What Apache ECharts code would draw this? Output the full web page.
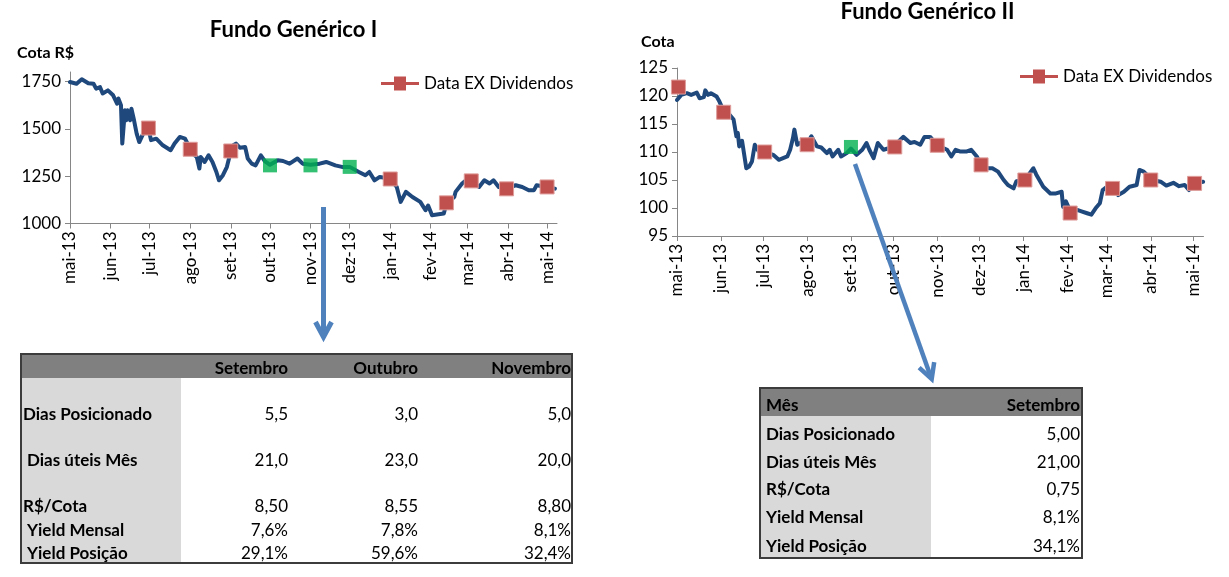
<!DOCTYPE html>
<html><head><meta charset="utf-8">
<script src="https://cdn.jsdelivr.net/npm/echarts@6/dist/echarts.min.js"></script>
<style>
html,body{margin:0;padding:0;background:#fff;}
#wrap{position:relative;width:1229px;height:577px;overflow:hidden;font-family:Lato,'Open Sans',sans-serif;}
#chart{position:absolute;left:0;top:0;width:1229px;height:577px;}
.box{position:absolute;box-sizing:border-box;border:2px solid #3c3c3c;}
.band{position:absolute;}
.txt{position:absolute;white-space:pre;font-size:17px;line-height:20px;color:#000;}
.b{font-weight:bold;}
</style></head><body><div id="wrap"><div id="chart"></div></div>
<script>
// ---------- DATA ----------
const monthTickDates = ['2013-05-01','2013-06-01','2013-07-01','2013-08-01','2013-09-01','2013-10-01','2013-11-01','2013-12-01','2014-01-01','2014-02-01','2014-03-01','2014-04-01','2014-05-01'];
const monthTickLabels = ['mai-13','jun-13','jul-13','ago-13','set-13','out-13','nov-13','dez-13','jan-14','fev-14','mar-14','abr-14','mai-14'];
const fundo1Ticks = [1000,1250,1500,1750];
const fundo2Ticks = [95,100,105,110,115,120,125];

const fundo1Cota = [
 ['2013-05-01',1747],['2013-05-06',1738],['2013-05-10',1762],['2013-05-15',1741],['2013-05-19',1738],['2013-05-21',1712],
 ['2013-05-24',1720],['2013-05-26',1687],['2013-05-30',1703],['2013-06-03',1677],['2013-06-06',1633],['2013-06-07',1660],
 ['2013-06-09',1624],['2013-06-10',1422],['2013-06-12',1598],['2013-06-13',1545],['2013-06-14',1598],['2013-06-16',1545],
 ['2013-06-17',1606],['2013-06-19',1545],['2013-06-21',1475],['2013-06-23',1430],['2013-06-26',1475],['2013-06-30',1500],
 ['2013-07-02',1440],['2013-07-06',1448],['2013-07-11',1413],['2013-07-17',1387],['2013-07-20',1422],['2013-07-24',1457],
 ['2013-07-28',1448],['2013-08-01',1395],['2013-08-03',1369],['2013-08-06',1351],['2013-08-08',1290],['2013-08-09',1351],
 ['2013-08-12',1325],['2013-08-15',1360],['2013-08-18',1325],['2013-08-21',1272],['2013-08-23',1228],['2013-08-26',1255],
 ['2013-08-29',1298],['2013-09-01',1380],['2013-09-03',1413],['2013-09-05',1422],['2013-09-08',1400],['2013-09-12',1404],
 ['2013-09-14',1343],['2013-09-17',1316],['2013-09-20',1307],['2013-09-24',1360],['2013-09-27',1330],['2013-10-01',1310],
 ['2013-10-07',1334],['2013-10-11',1330],['2013-10-16',1316],['2013-10-22',1343],['2013-10-26',1316],['2013-11-01',1310],
 ['2013-11-08',1316],['2013-11-13',1325],['2013-11-20',1307],['2013-11-25',1299],['2013-12-01',1299],['2013-12-08',1272],
 ['2013-12-13',1255],['2013-12-16',1272],['2013-12-20',1228],['2013-12-24',1246],['2014-01-01',1237],['2014-01-06',1193],
 ['2014-01-09',1114],['2014-01-13',1167],['2014-01-18',1140],['2014-01-24',1114],['2014-01-28',1070],['2014-01-30',1095],
 ['2014-02-02',1044],['2014-02-07',1049],['2014-02-11',1053],['2014-02-13',1105],['2014-02-19',1140],['2014-02-20',1167],
 ['2014-02-25',1211],['2014-02-28',1228],['2014-03-04',1222],['2014-03-10',1193],['2014-03-14',1228],['2014-03-18',1211],
 ['2014-03-21',1228],['2014-03-25',1193],['2014-03-31',1185],['2014-04-07',1202],['2014-04-12',1193],['2014-04-17',1176],
 ['2014-04-21',1176],['2014-04-23',1202],['2014-05-01',1193],['2014-05-07',1184]
];
const fundo1ExDiv = [['2013-06-30',1504],['2013-08-01',1392],['2013-09-01',1383],['2014-01-01',1235],['2014-02-13',1109],['2014-03-04',1225],['2014-03-31',1183],['2014-05-01',1193]];
const fundo1Posicao = [['2013-10-01',1307],['2013-11-01',1307],['2013-12-01',1299]];

const fundo2Cota = [
 ['2013-05-01',119.3],['2013-05-04',120.2],['2013-05-08',120.5],['2013-05-11',120.2],['2013-05-15',120.6],['2013-05-17',119.6],
 ['2013-05-20',119.8],['2013-05-21',121.0],['2013-05-23',120.2],['2013-05-25',120.5],['2013-05-29',119.9],['2013-05-31',119.0],
 ['2013-06-03',117.3],['2013-06-06',117.0],['2013-06-10',115.8],['2013-06-12',112.8],['2013-06-13',113.4],['2013-06-14',111.0],
 ['2013-06-16',112.0],['2013-06-19',107.1],['2013-06-21',107.4],['2013-06-23',108.3],['2013-06-25',111.3],['2013-06-28',110.0],
 ['2013-07-02',110.0],['2013-07-08',109.5],['2013-07-12',108.6],['2013-07-15',108.9],['2013-07-18',109.2],['2013-07-20',110.4],
 ['2013-07-22',112.5],['2013-07-23',114.0],['2013-07-25',111.3],['2013-07-27',111.6],['2013-08-01',111.5],['2013-08-04',112.8],
 ['2013-08-08',111.0],['2013-08-11',110.8],['2013-08-15',109.8],['2013-08-17',110.4],['2013-08-19',109.2],['2013-08-23',110.4],
 ['2013-08-25',109.2],['2013-08-29',109.8],['2013-09-01',110.6],['2013-09-05',109.5],['2013-09-09',110.4],['2013-09-12',111.6],
 ['2013-09-14',110.4],['2013-09-17',108.9],['2013-09-20',111.6],['2013-09-24',110.4],['2013-10-01',110.9],['2013-10-06',112.2],
 ['2013-10-08',112.7],['2013-10-13',111.6],['2013-10-16',111.8],['2013-10-20',111.3],['2013-10-23',112.7],['2013-10-27',112.7],
 ['2013-11-01',111.2],['2013-11-08',110.4],['2013-11-11',109.2],['2013-11-14',110.4],['2013-11-17',110.1],['2013-11-22',110.1],
 ['2013-11-25',110.4],['2013-11-29',109.2],['2013-12-02',107.7],['2013-12-07',107.1],['2013-12-10',107.1],['2013-12-14',106.5],
 ['2013-12-18',105.0],['2013-12-21',104.1],['2013-12-25',103.5],['2013-12-27',104.8],['2014-01-02',105.0],['2014-01-08',107.1],
 ['2014-01-10',106.0],['2014-01-15',103.8],['2014-01-20',102.6],['2014-01-24',102.6],['2014-01-28',102.9],['2014-01-29',100.2],
 ['2014-01-31',101.2],['2014-02-03',99.5],['2014-02-08',99.65],['2014-02-11',99.4],['2014-02-15',99.06],['2014-02-18',98.8],
 ['2014-02-21',99.95],['2014-02-24',100.85],['2014-02-26',103.2],['2014-03-01',103.8],['2014-03-06',103.6],['2014-03-09',102.3],
 ['2014-03-13',102.9],['2014-03-17',103.8],['2014-03-22',104.1],['2014-03-24',106.8],['2014-03-27',106.5],['2014-04-02',105.0],
 ['2014-04-08',104.7],['2014-04-12',104.0],['2014-04-17',104.5],['2014-04-21',103.9],['2014-04-25',104.1],['2014-04-28',103.2],
 ['2014-05-02',104.4],['2014-05-08',104.7]
];
const fundo2ExDiv = [['2013-05-02',121.6],['2013-06-03',117.1],['2013-07-02',110.0],['2013-08-01',111.3],['2013-10-02',110.9],['2013-11-01',111.2],['2013-12-02',107.7],['2014-01-02',105.0],['2014-02-03',99.1],['2014-03-05',103.5],['2014-04-01',105.0],['2014-05-02',104.4]];
const fundo2Posicao = [['2013-09-01',110.9]];

const titles = ['Fundo Genérico I','Fundo Genérico II'];
const yNames = ['Cota R$','Cota'];
const legendName = 'Data EX Dividendos';

const t1Cols = ['Setembro','Outubro','Novembro'];
const t1Rows = ['Dias Posicionado','Dias úteis Mês','R$/Cota','Yield Mensal','Yield Posição'];
const t1Vals = [['5,5','3,0','5,0'],['21,0','23,0','20,0'],['8,50','8,55','8,80'],['7,6%','7,8%','8,1%'],['29,1%','59,6%','32,4%']];
const t2Head = ['Mês','Setembro'];
const t2Rows = ['Dias Posicionado','Dias úteis Mês','R$/Cota','Yield Mensal','Yield Posição'];
const t2Vals = ['5,00','21,00','0,75','8,1%','34,1%'];

// ---------- HELPERS ----------
function ts(s){const p=s.split('-');return Date.UTC(+p[0],+p[1]-1,+p[2]);}
const DAY = 86400000;
const tickTs = monthTickDates.map(ts);
function monthLabel(v){
  for(let i=0;i<tickTs.length;i++){ if(Math.abs(tickTs[i]-v)<DAY/2) return monthTickLabels[i]; }
  return '';
}
const FONT = 'Lato';
const BLUE = '#1F497D', RED = '#C0504D', GREEN = '#00B050', AX = '#868686';

function xAxis(gi, maxTs){
  return {type:'value', gridIndex:gi, min:tickTs[0], max:maxTs, scale:true,
    axisLine:{show:true,onZero:false,lineStyle:{color:AX,width:1}},
    axisTick:{show:true,customValues:tickTs,length:5,inside:false,lineStyle:{color:AX}},
    axisLabel:{show:true,customValues:tickTs,rotate:90,formatter:monthLabel,fontSize:17,color:'#000',fontFamily:FONT,margin:8,hideOverlap:false,showMinLabel:true,showMaxLabel:true},
    splitLine:{show:false}};
}
function yAxis(gi,min,max,ticks){
  return {type:'value', gridIndex:gi, min:min, max:max,
    axisLine:{show:true,onZero:false,lineStyle:{color:AX,width:1}},
    axisTick:{show:true,customValues:ticks,length:5,inside:false,lineStyle:{color:AX}},
    axisLabel:{show:true,customValues:ticks,formatter:v=>String(v),fontSize:17,color:'#000',fontFamily:FONT,margin:9},
    splitLine:{show:false}};
}
const mk = d => d.map(p=>[ts(p[0]),p[1]]);

function cotaSeries(idx,data){
  return {type:'line',name:'cota'+idx,xAxisIndex:idx,yAxisIndex:idx,data:mk(data),showSymbol:false,symbol:'none',
    lineStyle:{color:BLUE,width:4,join:'round',cap:'round'},z:2,silent:true};
}
function exDivSeries(idx,data){
  return {type:'line',name:legendName,xAxisIndex:idx,yAxisIndex:idx,data:mk(data),symbol:'rect',symbolSize:14,showSymbol:true,
    lineStyle:{opacity:0,width:3,color:RED},itemStyle:{color:RED,borderColor:'#DE9C9A',borderWidth:1},z:5};
}
function posSeries(idx,data){
  return {type:'scatter',name:'Posição',xAxisIndex:idx,yAxisIndex:idx,data:mk(data),symbol:'rect',symbolSize:14,
    itemStyle:{color:GREEN},z:5};
}
function legend(left,top){
  return {data:[legendName],left:left,top:top,padding:0,itemWidth:38,itemHeight:14,itemGap:5,
    icon:'path://M0,5.5L13,5.5L13,0L25,0L25,5.5L38,5.5L38,8.5L25,8.5L25,14L13,14L13,8.5L0,8.5Z',
    itemStyle:{color:RED,borderWidth:0,opacity:1},
    textStyle:{fontSize:17,fontFamily:FONT,color:'#000'},selectedMode:false};
}
function arrowHead(tx,ty,dx,dy){
  const L=Math.hypot(dx,dy), ux=dx/L, uy=dy/L, px=-uy, py=ux;
  const bx=tx-ux*15, by=ty-uy*15;
  return [[bx+px*8,by+py*8],[tx,ty],[bx-px*8,by-py*8]];
}
const ARROW = '#4F81BD';

const option = {
  animation:false,
  backgroundColor:'#fff',
  grid:[
    {left:70,top:72,right:1229-557,bottom:577-223.5,containLabel:false},
    {left:677,top:68,right:1229-1203.5,bottom:577-236,containLabel:false}
  ],
  xAxis:[xAxis(0, ts('2014-05-08')+0.6*DAY), xAxis(1, ts('2014-05-08')+0.3*DAY)],
  yAxis:[yAxis(0,1000,1800,fundo1Ticks), yAxis(1,95,125,fundo2Ticks)],
  legend:[legend(381,75), legend(1020,68)],
  series:[cotaSeries(0,fundo1Cota),exDivSeries(0,fundo1ExDiv),posSeries(0,fundo1Posicao),
          cotaSeries(1,fundo2Cota),exDivSeries(1,fundo2ExDiv),posSeries(1,fundo2Posicao)],
  graphic:[
    {type:'text',x:293.5,y:30,style:{text:titles[0],font:'bold 22px '+FONT,fill:'#000',align:'center',verticalAlign:'middle'}},
    {type:'text',x:927.5,y:12,style:{text:titles[1],font:'bold 22px '+FONT,fill:'#000',align:'center',verticalAlign:'middle'}},
    {type:'text',x:17,y:53,style:{text:yNames[0],font:'bold 16px '+FONT,fill:'#000',align:'left',verticalAlign:'middle'}},
    {type:'text',x:641,y:42,style:{text:yNames[1],font:'bold 16px '+FONT,fill:'#000',align:'left',verticalAlign:'middle'}},
    {type:'line',shape:{x1:323.5,y1:207,x2:323.5,y2:334},style:{stroke:ARROW,lineWidth:5},z:10},
    {type:'polyline',shape:{points:arrowHead(323.5,337,0,1)},style:{stroke:ARROW,lineWidth:5,fill:null,lineJoin:'miter'},z:10},
    {type:'line',shape:{x1:855,y1:164,x2:930.5,y2:376},style:{stroke:ARROW,lineWidth:4.5},z:10},
    {type:'polyline',shape:{points:arrowHead(931.7,379,76.7,215)},style:{stroke:ARROW,lineWidth:4.5,fill:null,lineJoin:'miter'},z:10}
  ]
};

// ---------- TABLES (HTML) ----------
const wrap = document.getElementById('wrap');
function el(cls,css,text){const d=document.createElement('div');d.className=cls;Object.assign(d.style,css);if(text!==undefined)d.textContent=text;wrap.appendChild(d);return d;}
function txt(text,x,cy,align,bold){
  const css={top:(cy-10)+'px'};
  if(align==='right'){css.right=(1229-x)+'px';css.textAlign='right';} else {css.left=x+'px';}
  el('txt'+(bold?' b':''),css,text);
}
// Table 1
el('band',{left:'20px',top:'353px',width:'553px',height:'25px',background:'#808080'});
el('band',{left:'20px',top:'378px',width:'161px',height:'186px',background:'#D9D9D9'});
el('box',{left:'20px',top:'353px',width:'553px',height:'211px'});
const t1ColRight=[288,418,571];
const t1RowY=[414,460,506,530,553];
const t1Indent=[23,27,23,27,27];
t1Cols.forEach((c,i)=>txt(c,t1ColRight[i],368,'right',true));
t1Rows.forEach((r,i)=>{txt(r,t1Indent[i],t1RowY[i],'left',true);t1Vals[i].forEach((v,j)=>txt(v,t1ColRight[j],t1RowY[i],'right',false));});
// Table 2
el('band',{left:'759px',top:'387px',width:'324px',height:'29px',background:'#808080'});
el('band',{left:'759px',top:'416px',width:'172px',height:'143px',background:'#D9D9D9'});
el('box',{left:'759px',top:'387px',width:'324px',height:'172px'});
const t2RowY=[434,462,489,517,546];
txt(t2Head[0],766,405,'left',true);
txt(t2Head[1],1080,405,'right',true);
t2Rows.forEach((r,i)=>{txt(r,766,t2RowY[i],'left',true);txt(t2Vals[i],1080,t2RowY[i],'right',false);});

const chart = echarts.init(document.getElementById('chart'),null,{renderer:'canvas'});
chart.setOption(option);
</script></body></html>
